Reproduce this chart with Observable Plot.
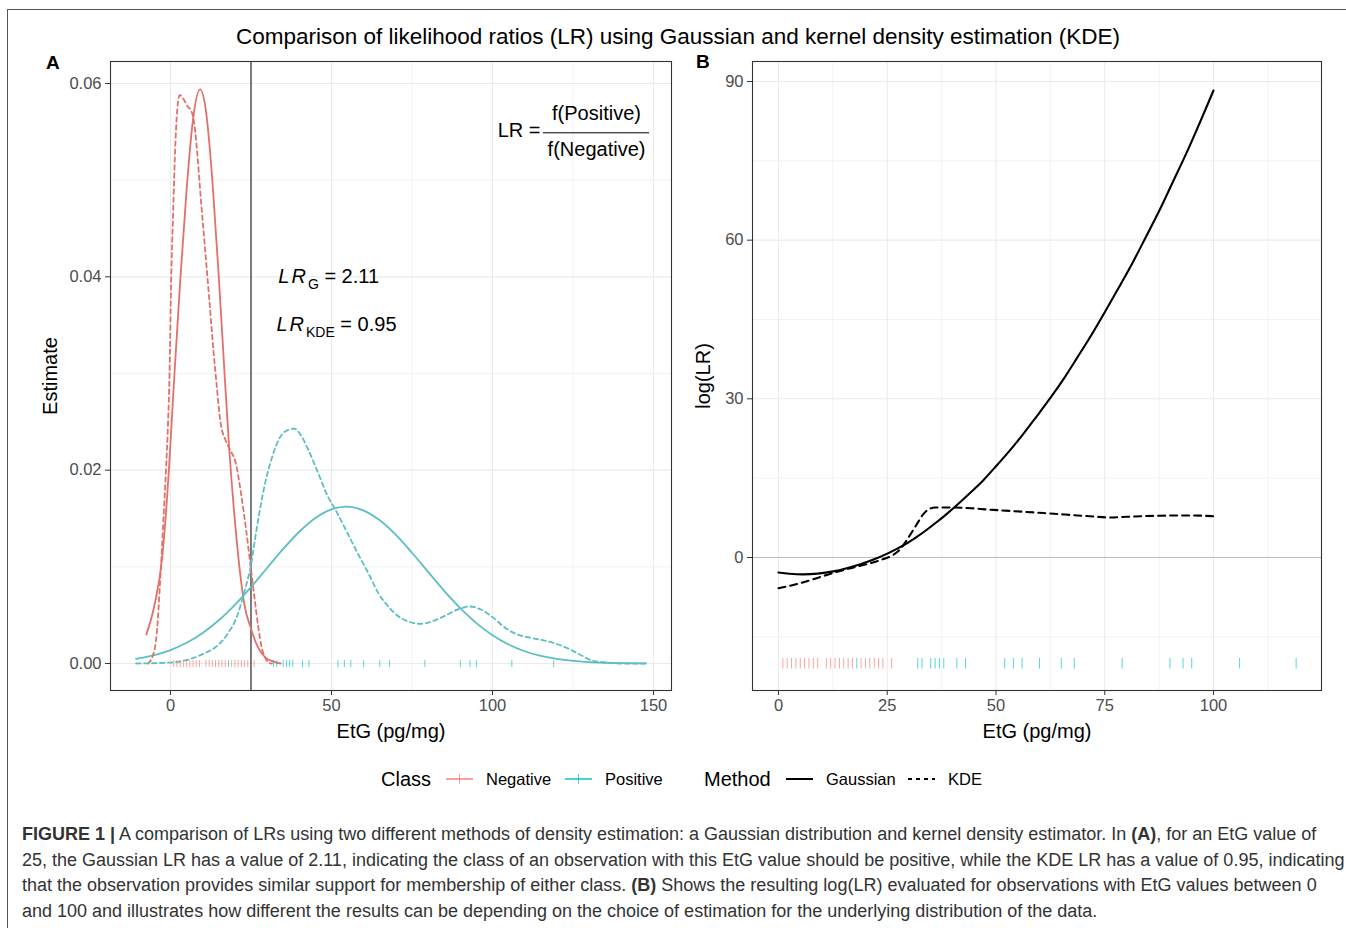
<!DOCTYPE html>
<html><head><meta charset="utf-8">
<script src="https://cdn.jsdelivr.net/npm/d3@7"></script>
<script src="https://cdn.jsdelivr.net/npm/@observablehq/plot@0.6"></script>
<style>
body{margin:0;background:#fff;}
#root{position:relative;width:1346px;height:928px;overflow:hidden;font-family:"Liberation Sans",Arial,Helvetica,sans-serif;color:#000;background:#fff;}
.abs{position:absolute;white-space:nowrap;}
.lg{position:absolute;white-space:nowrap;top:767px;height:24px;line-height:24px;}
#caption{position:absolute;left:22px;top:822px;font-size:18px;line-height:25.5px;color:#333;white-space:nowrap;}
</style></head><body>
<div id="root">
  <div class="abs" style="left:8px;top:9px;width:1338px;height:0;border-top:1.5px solid #555;"></div>
  <div class="abs" style="left:7px;top:9px;width:0;height:919px;border-left:1.5px solid #555;"></div>
  <div class="abs" id="title" style="left:5px;width:1346px;top:23px;text-align:center;font-size:22.5px;line-height:28px;"></div>
  <div class="abs" style="left:46px;top:51px;font-size:19px;font-weight:bold;line-height:24px;">A</div>
  <div class="abs" style="left:696px;top:50px;font-size:19px;font-weight:bold;line-height:24px;">B</div>
  <div class="abs" id="panelA" style="left:0;top:50px;"></div>
  <div class="abs" id="panelB" style="left:690px;top:50px;"></div>
  <div id="legend"></div>
  <div id="caption"></div>
</div>
<script>
// ---------------- data ----------------
const titleText = "Comparison of likelihood ratios (LR) using Gaussian and kernel density estimation (KDE)";
const classes = ["Negative", "Positive"];
const methods = ["Gaussian", "KDE"];

// rug: observed EtG values (pg/mg)
const negEtG = [1,2,3,4,5,6,7,8,9,11,12,13,14,15,16,17,19,20,21,22,23,24,26];
const posEtG = [18,32,33,35,36,37,38,41,43,52,54,56,60,65,68,79,90,93,95,106,119];

// panel A: density estimates
const gaussNegX = [-7.5,-5,-2.5,-0.5,1.2,3,5,7,9.2,11,13,15,16.7,18.2,19.8,21.4,23,25,27,29.5,32,34.2];
const gaussNegY = [0.0030,0.0060,0.0112,0.0200,0.0298,0.0395,0.0490,0.0563,0.0594,0.0572,0.0500,0.0400,0.0305,0.0224,0.0155,0.0100,0.0060,0.0036,0.0018,0.0006,0.0002,0.0000];

const kdeNegX = [-7.0,-5.3,-4.3,-3.2,-2.1,-1.4,-0.75,-0.3,0.2,0.8,1.55,2.3,2.9,4.2,5.4,6.4,7.0,7.7,8.3,9.3,10.5,11.9,13.4,14.2,15.5,17.1,18.5,20.3,21.9,23.5,24.9,26.2,27.3,28.3,29.4,30.5,31.5];
const kdeNegY = [0,0.0010,0.0030,0.0086,0.0155,0.0200,0.0250,0.0300,0.0395,0.0465,0.0540,0.0580,0.0588,0.0583,0.0576,0.0572,0.0566,0.0550,0.0528,0.0486,0.0438,0.0383,0.0321,0.0293,0.0250,0.0231,0.0221,0.0207,0.0176,0.0138,0.0100,0.0065,0.0037,0.0017,0.0006,0.0001,0];

const gaussPosX = [-10.7,-5,0,5,10,15,20,25,30,35,40,45,50,54.5,60,65,70,75,80,85,90,95,100,105,110,115,120,125,130,135,140,147.6];
const gaussPosY = [0.00048,0.00087,0.00139,0.00214,0.00316,0.00447,0.00607,0.0079,0.00988,0.01185,0.01363,0.01506,0.01595,0.01622,0.01582,0.01481,0.0133,0.01146,0.00948,0.00752,0.00573,0.00418,0.00293,0.00197,0.00127,0.00079,0.00047,0.00027,0.00015,0.00008,0.00004,0.00001];

const kdePosX = [-10.7,0,5.9,10.2,14.4,17.6,20.9,23.0,24.9,26.7,28.9,31.6,34.2,36.9,38.5,40.1,42.8,45.5,48.7,51.9,55.1,58.3,61.5,64.7,67.9,71.1,74.3,77.5,80.7,85.0,89.3,93.0,96.3,100,104.3,108.6,112.8,118.2,122.5,126.7,131,135.3,139.6,147.6];
const kdePosY = [0,0.0001,0.00045,0.0010,0.0018,0.0030,0.0051,0.0075,0.0100,0.0138,0.0179,0.0214,0.0235,0.0242,0.0243,0.0238,0.0221,0.0200,0.0174,0.0155,0.0134,0.0113,0.0093,0.0072,0.0058,0.0048,0.0043,0.0041,0.0043,0.0049,0.0056,0.0059,0.0056,0.0048,0.0036,0.0029,0.0026,0.0022,0.0017,0.0010,0.0003,0.0001,0,0];

// panel B: log likelihood ratio
const logLRGaussX = [0,2.5,5.7,9,12.6,15.7,18.8,22,24.9,27.2,29.5,31.8,34.1,36.4,38.7,41.8,44.9,47.1,50,53.1,56.2,59.4,62.5,65.6,68.75,71.9,75,78.1,81.25,84.4,87.5,90.6,93.75,96.9,100];
const logLRGaussY = [-2.84,-3.08,-3.2,-3.05,-2.63,-2.03,-1.28,-0.34,0.68,1.62,2.65,3.9,5.25,6.7,8.25,10.5,12.85,14.62,17.25,20.17,23.28,26.74,30.17,33.83,37.89,42.03,46.38,50.85,55.5,60.5,65.5,70.9,76.4,82.3,88.3];
const logLRKdeX = [0,3.4,7.3,11.1,15.7,20.3,24.1,26.4,28.0,29.9,31.8,33.3,34.5,36.0,40.2,49.4,60.9,72.4,76.2,80.1,87.7,95,100];
const logLRKdeY = [-5.8,-5.2,-4.3,-3.3,-2.2,-1.26,-0.3,0.5,1.6,3.8,6.3,8.2,9.1,9.45,9.45,9.0,8.4,7.75,7.56,7.7,7.9,7.95,7.8];

const etgCutoff = 25;
const lrGaussianLabel = "2.11";
const lrKdeLabel = "0.95";

const xTicksA = [0, 50, 100, 150], xMinorA = [25, 75, 125];
const yTicksA = [0, 0.02, 0.04, 0.06], yMinorA = [0.01, 0.03, 0.05];
const xTicksB = [0, 25, 50, 75, 100], xMinorB = [12.5, 37.5, 62.5, 87.5, 112.5];
const yTicksB = [0, 30, 60, 90], yMinorB = [-15, 15, 45, 75];
const rugYA = 0, rugYB = -20;

// ---------------- build tables ----------------
function zip(xs, ys, cls, method) { return xs.map((x, i) => ({x, y: ys[i], cls, method})); }
const densA = [
  ...zip(gaussNegX, gaussNegY, "Negative", "Gaussian"),
  ...zip(kdeNegX, kdeNegY, "Negative", "KDE"),
  ...zip(gaussPosX, gaussPosY, "Positive", "Gaussian"),
  ...zip(kdePosX, kdePosY, "Positive", "KDE")
];
const lrB = [
  ...zip(logLRGaussX, logLRGaussY, null, "Gaussian"),
  ...zip(logLRKdeX, logLRKdeY, null, "KDE")
];
const rug = [
  ...negEtG.map(v => ({x: v, cls: "Negative"})),
  ...posEtG.map(v => ({x: v, cls: "Positive"}))
];

const lineColors = ["#E2716A", "#5CBFC3"];
const rugColors = ["#F8766D", "#00BFC4"];
const vbar = {draw(ctx, size) { const r = Math.sqrt(size / Math.PI); ctx.moveTo(0, -r); ctx.lineTo(0, r); }};
const font = "'Liberation Sans', Arial, Helvetica, sans-serif";
const grid = (ticks, axis, w) => (axis === "x" ? Plot.gridX : Plot.gridY)(ticks, {stroke: "#EBEBEB", strokeOpacity: 1, strokeWidth: w});

// ---------------- panel A ----------------
const plotA = Plot.plot({
  width: 690, height: 710,
  marginLeft: 110, marginRight: 19, marginTop: 11, marginBottom: 70,
  style: {fontFamily: font, background: "transparent", overflow: "visible"},
  x: {domain: [-18.63, 155.59]},
  y: {domain: [-0.002793, 0.062276]},
  color: {domain: classes, range: lineColors},
  marks: [
    grid(xMinorA, "x", 0.6), grid(yMinorA, "y", 0.6),
    grid(xTicksA, "x", 1.1), grid(yTicksA, "y", 1.1),
    Plot.ruleX([etgCutoff], {stroke: "black", strokeWidth: 1}),
    Plot.line(densA.filter(d => d.method === "Gaussian"), {x: "x", y: "y", z: "cls", stroke: "cls", strokeWidth: 1.8, curve: "monotone-x"}),
    Plot.line(densA.filter(d => d.method === "KDE"), {x: "x", y: "y", z: "cls", stroke: "cls", strokeWidth: 1.8, strokeDasharray: "4.5,3.5", curve: "monotone-x"}),
    Plot.dot(rug.filter(d => d.cls === "Negative"), {x: "x", y: () => rugYA, symbol: vbar, r: 3.6, fill: "none", stroke: rugColors[0], strokeOpacity: 0.65, strokeWidth: 1}),
    Plot.dot(rug.filter(d => d.cls === "Positive"), {x: "x", y: () => rugYA, symbol: vbar, r: 3.6, fill: "none", stroke: rugColors[1], strokeOpacity: 0.65, strokeWidth: 1}),
    // annotations
    Plot.text([{x: 33.5, y: 0.0400, t: "LRG"}, {x: 32.9, y: 0.0351, t: "LRKDE"}], {x: "x", y: "y", text: "t", textAnchor: "start", lineAnchor: "middle", fontSize: 20, fill: "black"}),
    Plot.text([{x: 101.6, y: 0.0551, t: "LR ="}], {x: "x", y: "y", text: "t", textAnchor: "start", lineAnchor: "middle", fontSize: 20, fill: "black"}),
    Plot.text([{x: 132.3, y: 0.0569, t: "f(Positive)"}, {x: 132.3, y: 0.0532, t: "f(Negative)"}], {x: "x", y: "y", text: "t", textAnchor: "middle", lineAnchor: "middle", fontSize: 20, fill: "black"}),
    Plot.ruleY([{y: 0.0549, x1: 115.8, x2: 148.8}], {y: "y", x1: "x1", x2: "x2", stroke: "black", strokeWidth: 1}),
    Plot.axisX(xTicksA, {tickSize: 5, tickPadding: 4, label: null, fontSize: 16.5, fill: "#4D4D4D", stroke: "#333"}),
    Plot.axisY(yTicksA, {tickSize: 5, tickPadding: 4, label: null, fontSize: 16.5, fill: "#4D4D4D", stroke: "#333", tickFormat: d3.format(".2f")}),
    Plot.text(["EtG (pg/mg)"], {text: d => d, frameAnchor: "bottom", dy: 41, lineAnchor: "middle", fontSize: 20, fill: "black"}),
    Plot.text(["Estimate"], {text: d => d, frameAnchor: "left", dx: -60, rotate: -90, lineAnchor: "middle", textAnchor: "middle", fontSize: 20, fill: "black"}),
    Plot.frame({stroke: "#333", strokeWidth: 1.1})
  ]
});

// ---------------- panel B ----------------
const plotB = Plot.plot({
  width: 656, height: 710,
  marginLeft: 62, marginRight: 25, marginTop: 11, marginBottom: 70,
  style: {fontFamily: font, background: "transparent", overflow: "visible"},
  x: {domain: [-5.977, 124.83]},
  y: {domain: [-25.15, 93.78]},
  marks: [
    grid(xMinorB, "x", 0.6), grid(yMinorB, "y", 0.6),
    grid(xTicksB, "x", 1.1), grid(yTicksB, "y", 1.1),
    Plot.ruleY([0], {stroke: "#BEBEBE", strokeWidth: 1.2}),
    Plot.line(lrB.filter(d => d.method === "Gaussian"), {x: "x", y: "y", stroke: "black", strokeWidth: 2.1, curve: "catmull-rom"}),
    Plot.line(lrB.filter(d => d.method === "KDE"), {x: "x", y: "y", stroke: "black", strokeWidth: 2.1, strokeDasharray: "7,5", curve: "monotone-x"}),
    Plot.dot(rug.filter(d => d.cls === "Negative"), {x: "x", y: () => rugYB, symbol: vbar, r: 5.3, fill: "none", stroke: rugColors[0], strokeOpacity: 0.65, strokeWidth: 1}),
    Plot.dot(rug.filter(d => d.cls === "Positive"), {x: "x", y: () => rugYB, symbol: vbar, r: 5.3, fill: "none", stroke: rugColors[1], strokeOpacity: 0.65, strokeWidth: 1}),
    Plot.axisX(xTicksB, {tickSize: 5, tickPadding: 4, label: null, fontSize: 16.5, fill: "#4D4D4D", stroke: "#333"}),
    Plot.axisY(yTicksB, {tickSize: 5, tickPadding: 4, label: null, fontSize: 16.5, fill: "#4D4D4D", stroke: "#333"}),
    Plot.text(["EtG (pg/mg)"], {text: d => d, frameAnchor: "bottom", dy: 41, lineAnchor: "middle", fontSize: 20, fill: "black"}),
    Plot.text(["log(LR)"], {text: d => d, frameAnchor: "left", dx: -49, rotate: -90, lineAnchor: "middle", textAnchor: "middle", fontSize: 20, fill: "black"}),
    Plot.frame({stroke: "#333", strokeWidth: 1.1})
  ]
});

document.getElementById("panelA").appendChild(plotA);
document.getElementById("panelB").appendChild(plotB);
document.getElementById("title").textContent = titleText;

// rich text for LR subscripts
d3.select(plotA).selectAll("text").each(function() {
  const t = this.textContent;
  if (t === "LRG" || t === "LRKDE") {
    const sel = d3.select(this);
    sel.text("");
    sel.append("tspan").attr("font-style", "italic").attr("letter-spacing", "2px").text("LR");
    sel.append("tspan").attr("font-size", 14).attr("dy", 6).text(t === "LRG" ? "G" : "KDE");
    sel.append("tspan").attr("dy", -6).text(" = " + (t === "LRG" ? lrGaussianLabel : lrKdeLabel));
  }
});

// ---------------- legend ----------------
const legend = document.getElementById("legend");
function addText(left, txt, size) {
  const d = document.createElement("div");
  d.className = "lg"; d.style.left = left + "px"; d.style.fontSize = size + "px"; d.textContent = txt;
  legend.appendChild(d);
}
function addKey(left, color, dash, tick, opacity) {
  const ns = "http://www.w3.org/2000/svg";
  const s = document.createElementNS(ns, "svg");
  s.setAttribute("width", 27); s.setAttribute("height", 24);
  s.style.position = "absolute"; s.style.left = left + "px"; s.style.top = "767px";
  const l = document.createElementNS(ns, "line");
  l.setAttribute("x1", 0); l.setAttribute("x2", 27); l.setAttribute("y1", 12); l.setAttribute("y2", 12);
  l.setAttribute("stroke", color); l.setAttribute("stroke-width", 2);
  if (dash) l.setAttribute("stroke-dasharray", dash);
  if (opacity) l.setAttribute("stroke-opacity", opacity);
  s.appendChild(l);
  if (tick) {
    const v = document.createElementNS(ns, "line");
    v.setAttribute("x1", 13.5); v.setAttribute("x2", 13.5); v.setAttribute("y1", 7); v.setAttribute("y2", 17);
    v.setAttribute("stroke", color); v.setAttribute("stroke-width", 1); v.setAttribute("stroke-opacity", opacity || 1);
    s.appendChild(v);
  }
  legend.appendChild(s);
}
addText(381, "Class", 20);
addKey(446, rugColors[0], null, true, 0.7);
addText(486, classes[0], 16.5);
addKey(565, rugColors[1], null, true, 0.7);
addText(605, classes[1], 16.5);
addText(704, "Method", 20);
addKey(786, "#000", null, false);
addText(826, methods[0], 16.5);
addKey(908, "#000", "4,4", false);
addText(948, methods[1], 16.5);

// ---------------- caption ----------------
document.getElementById("caption").innerHTML =
  "<b>FIGURE 1 |</b> A comparison of LRs using two different methods of density estimation: a Gaussian distribution and kernel density estimator. In <b>(A)</b>, for an EtG value of<br>" +
  "25, the Gaussian LR has a value of 2.11, indicating the class of an observation with this EtG value should be positive, while the KDE LR has a value of 0.95, indicating<br>" +
  "that the observation provides similar support for membership of either class. <b>(B)</b> Shows the resulting log(LR) evaluated for observations with EtG values between 0<br>" +
  "and 100 and illustrates how different the results can be depending on the choice of estimation for the underlying distribution of the data.";
</script>
</body></html>
